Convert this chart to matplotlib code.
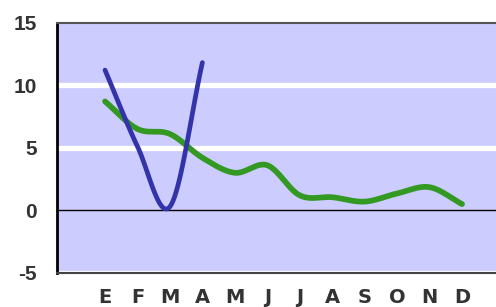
import numpy as np
import matplotlib
matplotlib.use("Agg")
import matplotlib.pyplot as plt

months = ["E", "F", "M", "A", "M", "J", "J", "A", "S", "O", "N", "D"]
blue_vals = [11.2, 5.1, 0.3, 11.8]
green_vals = [8.7, 6.5, 6.1, 4.2, 3.0, 3.6, 1.2, 1.05, 0.7, 1.35, 1.85, 0.5]
yticks = [-5, 0, 5, 10, 15]


def smooth(y, n=40):
    """Catmull-Rom curve through the given points."""
    y = np.asarray(y, float)
    p = np.concatenate([[2 * y[0] - y[1]], y, [2 * y[-1] - y[-2]]])
    xs, ys = [], []
    for i in range(len(y) - 1):
        p0, p1, p2, p3 = p[i], p[i + 1], p[i + 2], p[i + 3]
        t = np.linspace(0, 1, n, endpoint=(i == len(y) - 2))
        yy = 0.5 * ((2 * p1) + (-p0 + p2) * t + (2 * p0 - 5 * p1 + 4 * p2 - p3) * t ** 2
                    + (-p0 + 3 * p1 - 3 * p2 + p3) * t ** 3)
        xs.append(i + t)
        ys.append(yy)
    return np.concatenate(xs), np.concatenate(ys)


fig = plt.figure(figsize=(4.96, 3.07), dpi=100)
ax = fig.add_axes([57 / 496, 1 - 273 / 307, 1 - 57 / 496 + 0.01, (273 - 22.5) / 307])
ax.set_facecolor("#CCCCFF")
ax.set_xlim(-1.48, 12.2)
ax.set_ylim(-5, 15)

for g in [-5, 5, 10]:
    ax.axhline(g, color="white", lw=3.8, zorder=1)
ax.axhline(0, color="black", lw=1, zorder=2)

gx, gy = smooth(green_vals)
ax.plot(gx, gy, color="#339922", lw=4.1, solid_capstyle="round", zorder=3)
bx, by = smooth(blue_vals)
ax.plot(bx, by, color="#3333AA", lw=3.4, solid_capstyle="round", zorder=4)

ax.set_xticks(range(len(months)))
ax.set_xticklabels(months, fontfamily="DejaVu Sans", fontweight="bold",
                   fontsize=14, color="#333333")
ax.set_yticks(yticks)
ax.set_yticklabels([str(v) for v in yticks], fontfamily="Liberation Sans",
                   fontweight="bold", fontsize=15, color="#333333")
ax.tick_params(axis="x", length=0, pad=10.5)
ax.tick_params(axis="y", length=0, pad=14.4)

ax.spines["left"].set_color("black")
ax.spines["left"].set_linewidth(2.0)
ax.spines["top"].set_color("#555555")
ax.spines["top"].set_linewidth(1.5)
ax.spines["bottom"].set_color("#444444")
ax.spines["bottom"].set_linewidth(1.5)
ax.spines["right"].set_visible(False)

fig.savefig("out.png", dpi=100)
